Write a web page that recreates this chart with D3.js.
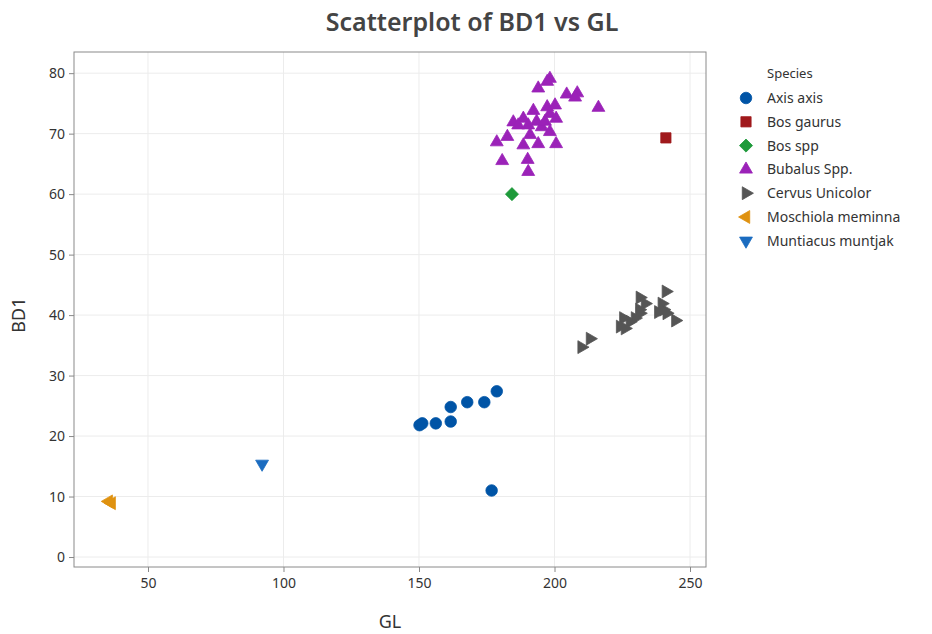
<!DOCTYPE html>
<html>
<head>
<meta charset="utf-8">
<script src="https://cdn.jsdelivr.net/npm/d3@7"></script>
<style>
  body { margin: 0; background: #fff; }
  text { font-family: "Noto Sans", "Open Sans", sans-serif; fill: #333; }
</style>
</head>
<body>
<div id="chart"></div>
<script>
// species and their colours / marker shapes
var species = ["Axis axis", "Bos gaurus", "Bos spp", "Bubalus Spp.", "Cervus Unicolor", "Moschiola meminna", "Muntiacus muntjak"];
var colors = ["#0054a6", "#a0191c", "#1e9a3a", "#9b22b8", "#555555", "#df9210", "#1b6cc0"];

// values: [GL, BD1]
var axisAxis = [[150.2, 21.8], [151.2, 22.1], [156.2, 22.1], [161.7, 22.4], [161.7, 24.8], [167.8, 25.6], [174.1, 25.6], [178.7, 27.4], [176.8, 11.0]];
var bosGaurus = [[241.1, 69.3]];
var bosSpp = [[184.3, 60.0]];
var bubalus = [[198.3, 79.1], [197.3, 78.6], [194.0, 77.5], [204.5, 76.5], [208.4, 76.7], [207.6, 76.0], [216.2, 74.3],
  [192.2, 73.8], [197.3, 74.4], [200.2, 74.7], [198.3, 73.3], [200.6, 72.5], [184.8, 71.9], [188.5, 72.5], [190.3, 71.4],
  [193.4, 72.0], [195.3, 71.1], [198.3, 70.3], [191.0, 69.8], [182.6, 69.5], [178.7, 68.6], [188.5, 68.1], [194.0, 68.3],
  [200.6, 68.3], [180.7, 65.5], [190.1, 65.7], [190.3, 63.7], [186.6, 71.4], [196.5, 72.0]];
var cervus = [[241.1, 43.9], [239.6, 41.9], [240.2, 40.9], [244.6, 39.1], [231.5, 42.9], [233.4, 41.9], [231.3, 40.9],
  [231.5, 40.3], [229.7, 39.5], [227.8, 38.9], [225.4, 39.5], [224.2, 38.1], [226.0, 37.8], [213.1, 36.1], [210.0, 34.7],
  [238.3, 40.5], [241.4, 40.3]];
var moschiola = [[35.5, 9.2], [36.6, 8.9]];
var muntiacus = [[92.1, 15.4]];

var seriesValues = [axisAxis, bosGaurus, bosSpp, bubalus, cervus, moschiola, muntiacus];

var xTicks = [50, 100, 150, 200, 250];
var yTicks = [0, 10, 20, 30, 40, 50, 60, 70, 80];

var W = 932, H = 634;
var margin = {top: 52, right: 226, bottom: 67, left: 74},
    width = W - margin.left - margin.right,
    height = H - margin.top - margin.bottom;

var svg = d3.select("#chart")
  .append("svg")
    .attr("width", W)
    .attr("height", H);

var g = svg.append("g")
    .attr("transform", "translate(" + margin.left + "," + margin.top + ")");

var x = d3.scaleLinear().domain([22.7, 255.9]).range([0, width]);
var y = d3.scaleLinear().domain([-1.65, 83.5]).range([height, 0]);

// gridlines
g.append("g").selectAll("line").data(xTicks).enter().append("line")
  .attr("x1", function(d) { return x(d); }).attr("x2", function(d) { return x(d); })
  .attr("y1", 0).attr("y2", height)
  .attr("stroke", "#ececec");
g.append("g").selectAll("line").data(yTicks).enter().append("line")
  .attr("y1", function(d) { return y(d); }).attr("y2", function(d) { return y(d); })
  .attr("x1", 0).attr("x2", width)
  .attr("stroke", "#ececec");

// axes
var xAxis = g.append("g")
  .attr("transform", "translate(0," + height + ")")
  .call(d3.axisBottom(x).tickValues(xTicks).tickSize(5).tickPadding(6));
var yAxis = g.append("g")
  .call(d3.axisLeft(y).tickValues(yTicks).tickSize(5).tickPadding(4));
[xAxis, yAxis].forEach(function(a) {
  a.select(".domain").remove();
  a.selectAll("line").attr("stroke", "#888");
  a.selectAll("text").style("font-size", "14px").style("fill", "#333");
});

// frame
g.append("rect")
  .attr("width", width).attr("height", height)
  .attr("fill", "none").attr("stroke", "#8a8a8a").attr("stroke-width", 1);

// marker shapes (the diamond is a square turned 45 degrees)
function marker(i) {
  var types = [d3.symbolCircle, d3.symbolSquare, d3.symbolSquare, d3.symbolTriangle, d3.symbolTriangle, d3.symbolTriangle, d3.symbolTriangle];
  var sizes = [105, 105, 85, 72, 72, 72, 72];
  return d3.symbol().type(types[i]).size(sizes[i])();
}
var rotations = [0, 0, 45, 0, 90, -90, 180];

seriesValues.forEach(function(data, i) {
  g.append("g").selectAll("path").data(data).enter().append("path")
    .attr("d", marker(i))
    .attr("transform", function(d) {
      return "translate(" + x(d[0]) + "," + y(d[1]) + ") rotate(" + rotations[i] + ")";
    })
    .attr("fill", colors[i])
    .attr("stroke", colors[i])
    .attr("stroke-width", 0.8);
});

// title and axis labels
svg.append("text")
  .attr("x", 472).attr("y", 31)
  .attr("text-anchor", "middle")
  .style("font-size", "25px").style("font-weight", "600").style("fill", "#444")
  .text("Scatterplot of BD1 vs GL");

svg.append("text")
  .attr("x", margin.left + width / 2).attr("y", 628)
  .attr("text-anchor", "middle")
  .style("font-size", "18px")
  .text("GL");

svg.append("text")
  .attr("transform", "translate(25," + (margin.top + y(40)) + ") rotate(-90)")
  .attr("text-anchor", "middle")
  .style("font-size", "18px")
  .text("BD1");

// legend
var legend = svg.append("g").attr("transform", "translate(746,73)");
legend.append("text")
  .attr("x", 21).attr("y", 5)
  .style("font-size", "13px")
  .text("Species");
species.forEach(function(s, i) {
  var row = legend.append("g").attr("transform", "translate(0," + (25 + i * 23.8) + ")");
  row.append("path")
    .attr("d", marker(i))
    .attr("transform", "rotate(" + rotations[i] + ")")
    .attr("fill", colors[i]).attr("stroke", colors[i]).attr("stroke-width", 0.8);
  row.append("text")
    .attr("x", 21).attr("y", 5)
    .style("font-size", "14px")
    .text(s);
});
</script>
</body>
</html>
